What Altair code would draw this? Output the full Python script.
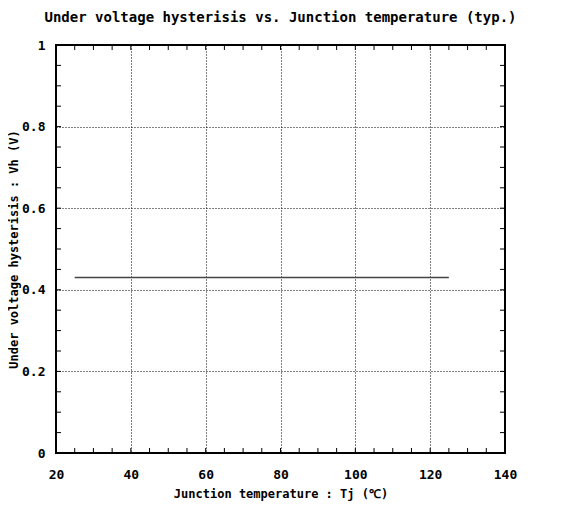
import altair as alt
import pandas as pd

# ---- data ----
TEMPERATURE = [25, 50, 75, 100, 125]
HYSTERESIS = [0.43, 0.43, 0.43, 0.43, 0.43]

X_MAJOR = [20, 40, 60, 80, 100, 120, 140]
Y_MAJOR = [0, 0.2, 0.4, 0.6, 0.8, 1]
X_MINOR = [20, 25, 30, 35, 40, 45, 50, 55, 60, 65, 70, 75, 80, 85, 90, 95,
           100, 105, 110, 115, 120, 125, 130, 135, 140]
Y_MINOR = [0, 0.05, 0.1, 0.15, 0.2, 0.25, 0.3, 0.35, 0.4, 0.45, 0.5, 0.55,
           0.6, 0.65, 0.7, 0.75, 0.8, 0.85, 0.9, 0.95, 1]

TITLE = "Under voltage hysterisis vs. Junction temperature (typ.)"
X_TITLE = "Junction temperature : Tj (\u2103)"
Y_TITLE = "Under voltage hysterisis : Vh (V)"

W, H = 449, 408
FONT = "DejaVu Sans Mono"
TICK = 5

line_df = pd.DataFrame({"Tj": TEMPERATURE, "Vh": HYSTERESIS})
xt_df = pd.DataFrame({"Tj": X_MINOR})
yt_df = pd.DataFrame({"Vh": Y_MINOR})

x_scale = alt.Scale(domain=[20, 140], nice=False, zero=False)
y_scale = alt.Scale(domain=[0, 1], nice=False)

x_axis = alt.Axis(values=X_MAJOR, title=X_TITLE, ticks=False, domain=False,
                  grid=True, gridColor="black", gridDash=[1, 2], gridWidth=1,
                  gridOpacity=1, labelPadding=15, titlePadding=7,
                  labelFont=FONT, labelFontSize=13, labelFontWeight="bold",
                  labelColor="black", titleFont=FONT, titleFontSize=12,
                  titleFontWeight="bold", titleColor="black", labelFlush=False)
y_axis = alt.Axis(values=Y_MAJOR, title=Y_TITLE, ticks=False, domain=False,
                  grid=True, gridColor="black", gridDash=[1, 2], gridWidth=1,
                  gridOpacity=1, labelPadding=11, titlePadding=1,
                  labelFont=FONT, labelFontSize=13, labelFontWeight="bold",
                  labelColor="black", titleFont=FONT, titleFontSize=12,
                  titleFontWeight="bold", titleColor="black", labelFlush=False,
                  format="~g")

line = alt.Chart(line_df).mark_line(color="#444444", strokeWidth=1.5).encode(
    x=alt.X("Tj:Q", scale=x_scale, axis=x_axis),
    y=alt.Y("Vh:Q", scale=y_scale, axis=y_axis),
)

tick_style = dict(color="black", strokeWidth=1)
bottom_ticks = alt.Chart(xt_df).mark_rule(**tick_style).encode(
    x=alt.X("Tj:Q", scale=x_scale), y=alt.value(H), y2=alt.value(H - TICK))
top_ticks = alt.Chart(xt_df).mark_rule(**tick_style).encode(
    x=alt.X("Tj:Q", scale=x_scale), y=alt.value(0), y2=alt.value(TICK))
left_ticks = alt.Chart(yt_df).mark_rule(**tick_style).encode(
    y=alt.Y("Vh:Q", scale=y_scale), x=alt.value(0), x2=alt.value(TICK))
right_ticks = alt.Chart(yt_df).mark_rule(**tick_style).encode(
    y=alt.Y("Vh:Q", scale=y_scale), x=alt.value(W), x2=alt.value(W - TICK))

chart = alt.layer(line, bottom_ticks, top_ticks, left_ticks, right_ticks).properties(
    width=W, height=H,
    title=alt.TitleParams(TITLE, font=FONT, fontSize=14, fontWeight="bold",
                          color="black", anchor="middle", offset=14),
    autosize=alt.AutoSizeParams(type="none"),
    padding={"left": 48, "top": 37, "right": 40, "bottom": 55},
    background="white",
).configure_view(stroke="black", strokeWidth=2)

chart.save("out.html", embed_options={"renderer": "svg", "actions": False})
